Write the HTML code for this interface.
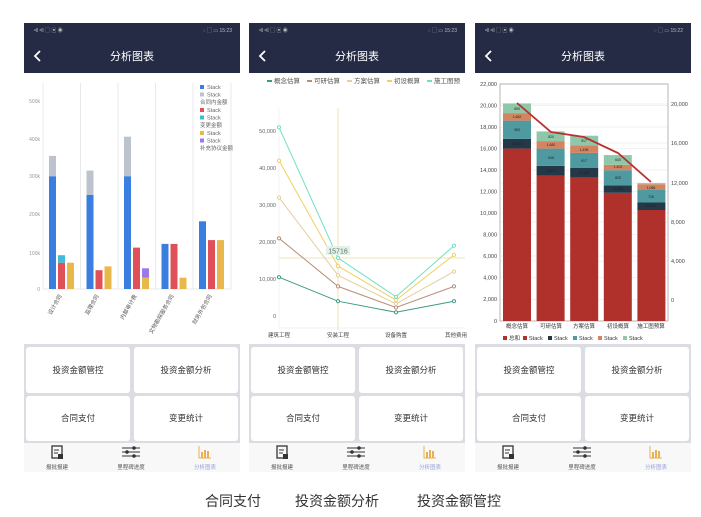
<!DOCTYPE html>
<html><head><meta charset="utf-8"><style>
html,body{margin:0;padding:0;background:#fff;}
svg{display:block;font-family:"Liberation Sans","Noto Sans CJK SC",sans-serif;}
</style></head><body>
<svg width="701" height="517" viewBox="0 0 701 517" xmlns="http://www.w3.org/2000/svg">
<rect width="701" height="517" fill="#fff"/>

<!-- ========== PANEL CHROME x3 ========== -->
<g id="p1">
<rect x="24" y="23" width="216" height="50" fill="#252a45"/>
<text x="34" y="32" font-size="5" fill="#bbb">ᵃll ᵃll ▢ ▣ ◉</text>
<text x="232" y="32" font-size="5" fill="#bbb" text-anchor="end">◌ ▢ ▭ 15:23</text>
<path d="M40 51 L35 56 L40 61" stroke="#fff" stroke-width="1.8" fill="none"/>
<text x="132" y="60" font-size="11" fill="#fff" text-anchor="middle">分析图表</text>
<rect x="24" y="73" width="216" height="271" fill="#fff"/>
<rect x="24" y="344" width="216" height="99" fill="#dcdde2"/>
<rect x="26" y="347" width="104" height="46" rx="3" fill="#fff"/><rect x="134" y="347" width="104" height="46" rx="3" fill="#fff"/>
<rect x="26" y="396" width="104" height="45" rx="3" fill="#fff"/><rect x="134" y="396" width="104" height="45" rx="3" fill="#fff"/>
<g font-size="8.5" fill="#333" text-anchor="middle"><text x="78" y="373">投资金额管控</text><text x="186" y="373">投资金额分析</text><text x="78" y="421">合同支付</text><text x="186" y="421">变更统计</text></g>
<rect x="24" y="443" width="216" height="29" fill="#f8f8f8"/>
</g>
<g transform="translate(225,0)">
<rect x="24" y="23" width="216" height="50" fill="#252a45"/>
<text x="34" y="32" font-size="5" fill="#bbb">ᵃll ᵃll ▢ ▣ ◉</text>
<text x="232" y="32" font-size="5" fill="#bbb" text-anchor="end">◌ ▢ ▭ 15:23</text>
<path d="M40 51 L35 56 L40 61" stroke="#fff" stroke-width="1.8" fill="none"/>
<text x="132" y="60" font-size="11" fill="#fff" text-anchor="middle">分析图表</text>
<rect x="24" y="73" width="216" height="271" fill="#fff"/>
<rect x="24" y="344" width="216" height="99" fill="#dcdde2"/>
<rect x="26" y="347" width="104" height="46" rx="3" fill="#fff"/><rect x="134" y="347" width="104" height="46" rx="3" fill="#fff"/>
<rect x="26" y="396" width="104" height="45" rx="3" fill="#fff"/><rect x="134" y="396" width="104" height="45" rx="3" fill="#fff"/>
<g font-size="8.5" fill="#333" text-anchor="middle"><text x="78" y="373">投资金额管控</text><text x="186" y="373">投资金额分析</text><text x="78" y="421">合同支付</text><text x="186" y="421">变更统计</text></g>
<rect x="24" y="443" width="216" height="29" fill="#f8f8f8"/>
</g>
<g transform="translate(451,0)">
<rect x="24" y="23" width="216" height="50" fill="#252a45"/>
<text x="34" y="32" font-size="5" fill="#bbb">ᵃll ᵃll ▢ ▣ ◉</text>
<text x="232" y="32" font-size="5" fill="#bbb" text-anchor="end">◌ ▢ ▭ 15:22</text>
<path d="M40 51 L35 56 L40 61" stroke="#fff" stroke-width="1.8" fill="none"/>
<text x="132" y="60" font-size="11" fill="#fff" text-anchor="middle">分析图表</text>
<rect x="24" y="73" width="216" height="271" fill="#fff"/>
<rect x="24" y="344" width="216" height="99" fill="#dcdde2"/>
<rect x="26" y="347" width="104" height="46" rx="3" fill="#fff"/><rect x="134" y="347" width="104" height="46" rx="3" fill="#fff"/>
<rect x="26" y="396" width="104" height="45" rx="3" fill="#fff"/><rect x="134" y="396" width="104" height="45" rx="3" fill="#fff"/>
<g font-size="8.5" fill="#333" text-anchor="middle"><text x="78" y="373">投资金额管控</text><text x="186" y="373">投资金额分析</text><text x="78" y="421">合同支付</text><text x="186" y="421">变更统计</text></g>
<rect x="24" y="443" width="216" height="29" fill="#f8f8f8"/>
</g>

<!-- tab icons x3 -->
<g>
 <g id="tabs">
 <rect x="52" y="446" width="10" height="12" fill="none" stroke="#333" stroke-width="1.3"/><rect x="58" y="454" width="5" height="5" fill="#333"/>
 <line x1="54" y1="450" x2="59" y2="450" stroke="#333"/><line x1="54" y1="453" x2="58" y2="453" stroke="#333"/>
 <line x1="122" y1="448" x2="140" y2="448" stroke="#333"/><line x1="122" y1="452" x2="140" y2="452" stroke="#333"/><line x1="122" y1="456" x2="140" y2="456" stroke="#333"/>
 <circle cx="134" cy="448" r="1.8" fill="#333"/><circle cx="127" cy="452" r="1.8" fill="#333"/><circle cx="134" cy="456" r="1.8" fill="#333"/>
 <path d="M199 446 V458 H211" stroke="#e8b050" fill="none"/><rect x="201" y="452" width="2" height="6" fill="#e8b050"/><rect x="204" y="450" width="2" height="8" fill="#e8b050"/><rect x="207" y="451" width="2" height="7" fill="#e8b050"/>
 <g font-size="5.5" text-anchor="middle"><text x="57" y="469" fill="#555">报批报建</text><text x="131" y="469" fill="#555">里程碑进度</text><text x="205" y="469" fill="#9aa0d8">分析图表</text></g>
 </g>
</g>
<g transform="translate(225,0)">
 <rect x="52" y="446" width="10" height="12" fill="none" stroke="#333" stroke-width="1.3"/><rect x="58" y="454" width="5" height="5" fill="#333"/>
 <line x1="54" y1="450" x2="59" y2="450" stroke="#333"/><line x1="54" y1="453" x2="58" y2="453" stroke="#333"/>
 <line x1="122" y1="448" x2="140" y2="448" stroke="#333"/><line x1="122" y1="452" x2="140" y2="452" stroke="#333"/><line x1="122" y1="456" x2="140" y2="456" stroke="#333"/>
 <circle cx="134" cy="448" r="1.8" fill="#333"/><circle cx="127" cy="452" r="1.8" fill="#333"/><circle cx="134" cy="456" r="1.8" fill="#333"/>
 <path d="M199 446 V458 H211" stroke="#e8b050" fill="none"/><rect x="201" y="452" width="2" height="6" fill="#e8b050"/><rect x="204" y="450" width="2" height="8" fill="#e8b050"/><rect x="207" y="451" width="2" height="7" fill="#e8b050"/>
 <g font-size="5.5" text-anchor="middle"><text x="57" y="469" fill="#555">报批报建</text><text x="131" y="469" fill="#555">里程碑进度</text><text x="205" y="469" fill="#9aa0d8">分析图表</text></g>
</g>
<g transform="translate(451,0)">
 <rect x="52" y="446" width="10" height="12" fill="none" stroke="#333" stroke-width="1.3"/><rect x="58" y="454" width="5" height="5" fill="#333"/>
 <line x1="54" y1="450" x2="59" y2="450" stroke="#333"/><line x1="54" y1="453" x2="58" y2="453" stroke="#333"/>
 <line x1="122" y1="448" x2="140" y2="448" stroke="#333"/><line x1="122" y1="452" x2="140" y2="452" stroke="#333"/><line x1="122" y1="456" x2="140" y2="456" stroke="#333"/>
 <circle cx="134" cy="448" r="1.8" fill="#333"/><circle cx="127" cy="452" r="1.8" fill="#333"/><circle cx="134" cy="456" r="1.8" fill="#333"/>
 <path d="M199 446 V458 H211" stroke="#e8b050" fill="none"/><rect x="201" y="452" width="2" height="6" fill="#e8b050"/><rect x="204" y="450" width="2" height="8" fill="#e8b050"/><rect x="207" y="451" width="2" height="7" fill="#e8b050"/>
 <g font-size="5.5" text-anchor="middle"><text x="57" y="469" fill="#555">报批报建</text><text x="131" y="469" fill="#555">里程碑进度</text><text x="205" y="469" fill="#9aa0d8">分析图表</text></g>
</g>

<!-- ========== CHART 1 ========== -->
<g font-size="5" fill="#999">
<text x="40" y="103" text-anchor="end">500k</text><text x="40" y="141" text-anchor="end">400k</text>
<text x="40" y="178" text-anchor="end">300k</text><text x="40" y="216" text-anchor="end">200k</text>
<text x="40" y="255" text-anchor="end">100k</text><text x="40" y="291" text-anchor="end">0</text>
</g>
<g stroke="#e0e0e0" stroke-width="0.7">
<line x1="43" y1="83" x2="43" y2="289"/><line x1="80.5" y1="83" x2="80.5" y2="289"/><line x1="118" y1="83" x2="118" y2="289"/>
<line x1="155.5" y1="83" x2="155.5" y2="289"/><line x1="193" y1="83" x2="193" y2="289"/><line x1="231" y1="83" x2="231" y2="289"/>
<line x1="43" y1="289" x2="231" y2="289"/>
</g>
<g>
<rect x="49" y="176.2" width="7" height="112.8" fill="#3a7fe0"/><rect x="49" y="155.9" width="7" height="20.3" fill="#bcc3cc"/>
<rect x="58" y="262.7" width="7" height="26.3" fill="#e05058"/><rect x="58" y="255.2" width="7" height="7.5" fill="#40bcd8"/>
<rect x="67" y="262.7" width="7" height="26.3" fill="#e8b84a"/>
<rect x="86.5" y="195" width="7" height="94" fill="#3a7fe0"/><rect x="86.5" y="170.6" width="7" height="24.4" fill="#bcc3cc"/>
<rect x="95.5" y="270.2" width="7" height="18.8" fill="#e05058"/><rect x="104.5" y="266.4" width="7" height="22.6" fill="#e8b84a"/>
<rect x="124" y="176.2" width="7" height="112.8" fill="#3a7fe0"/><rect x="124" y="136.7" width="7" height="39.5" fill="#bcc3cc"/>
<rect x="133" y="247.6" width="7" height="41.4" fill="#e05058"/>
<rect x="142" y="277.7" width="7" height="11.3" fill="#e8b84a"/><rect x="142" y="268.3" width="7" height="9.4" fill="#9a7ae8"/>
<rect x="161.5" y="243.9" width="7" height="45.1" fill="#3a7fe0"/><rect x="170.5" y="243.9" width="7" height="45.1" fill="#e05058"/>
<rect x="179.5" y="277.7" width="7" height="11.3" fill="#e8b84a"/>
<rect x="199" y="221.3" width="7" height="67.7" fill="#3a7fe0"/><rect x="208" y="240.1" width="7" height="48.9" fill="#e05058"/>
<rect x="217" y="240.1" width="7" height="48.9" fill="#e8b84a"/>
</g>
<g font-size="5.5" fill="#666">
<rect x="200" y="85" width="4" height="4" fill="#3a7fe0"/><text x="207" y="89">Stack</text>
<rect x="200" y="92.5" width="4" height="4" fill="#bcc3cc"/><text x="207" y="96.5">Stack</text>
<text x="200" y="104">合同内金额</text>
<rect x="200" y="108" width="4" height="4" fill="#e05058"/><text x="207" y="112">Stack</text>
<rect x="200" y="115.5" width="4" height="4" fill="#40bcd8"/><text x="207" y="119.5">Stack</text>
<text x="200" y="127">变更金额</text>
<rect x="200" y="131" width="4" height="4" fill="#e8b84a"/><text x="207" y="135">Stack</text>
<rect x="200" y="138.5" width="4" height="4" fill="#9a7ae8"/><text x="207" y="142.5">Stack</text>
<text x="200" y="150">补充协议金额</text>
</g>
<g font-size="5.5" fill="#555" text-anchor="end">
<text transform="translate(62,296) rotate(-60)">设计合同</text>
<text transform="translate(99,296) rotate(-60)">监理合同</text>
<text transform="translate(137,296) rotate(-60)">内部审计费</text>
<text transform="translate(174,296) rotate(-60)">文物勘探服务合同</text>
<text transform="translate(212,296) rotate(-60)">财务外包合同</text>
</g>

<!-- ========== CHART 2 ========== -->
<g font-size="6.5" fill="#555">
<rect x="267" y="80" width="5" height="2" fill="#3e9a84"/><text x="274" y="83">概念估算</text>
<rect x="307" y="80" width="5" height="2" fill="#b98e78"/><text x="314" y="83">可研估算</text>
<rect x="347" y="80" width="5" height="2" fill="#e3cfa0"/><text x="354" y="83">方案估算</text>
<rect x="387" y="80" width="5" height="2" fill="#efd060"/><text x="394" y="83">初设概算</text>
<rect x="427" y="80" width="5" height="2" fill="#6fe0c2"/><text x="434" y="83">施工图预</text>
</g>
<g font-size="5.5" fill="#666" text-anchor="end">
<text x="276" y="133">50,000</text><text x="276" y="170">40,000</text><text x="276" y="207">30,000</text>
<text x="276" y="244">20,000</text><text x="276" y="281">10,000</text><text x="276" y="318">0</text>
</g>
<line x1="279" y1="108" x2="279" y2="328" stroke="#eee" stroke-width="0.7"/>
<line x1="279" y1="328" x2="465" y2="328" stroke="#eee" stroke-width="0.7"/>
<line x1="338" y1="108" x2="338" y2="330" stroke="#ecdca0" stroke-width="0.8"/>
<line x1="279" y1="258" x2="465" y2="258" stroke="#ecdca0" stroke-width="0.8"/>
<g fill="#fff" stroke-width="1">
<polyline points="279,277.2 338,301.2 396,312.3 454,301.2" fill="none" stroke="#3e9a84"/>
<polyline points="279,238.3 338,286.4 396,307.5 454,286.4" fill="none" stroke="#b98e78"/>
<polyline points="279,197.6 338,275.3 396,303.8 454,271.6" fill="none" stroke="#e3cfa0"/>
<polyline points="279,160.6 338,266.1 396,300.1 454,254.9" fill="none" stroke="#efd060"/>
<polyline points="279,127.3 338,257.9 396,296.8 454,245.7" fill="none" stroke="#6fe0c2"/>
<g stroke="#3e9a84"><circle cx="279" cy="277.2" r="1.6"/><circle cx="338" cy="301.2" r="1.6"/><circle cx="396" cy="312.3" r="1.6"/><circle cx="454" cy="301.2" r="1.6"/></g>
<g stroke="#b98e78"><circle cx="279" cy="238.3" r="1.6"/><circle cx="338" cy="286.4" r="1.6"/><circle cx="396" cy="307.5" r="1.6"/><circle cx="454" cy="286.4" r="1.6"/></g>
<g stroke="#e3cfa0"><circle cx="279" cy="197.6" r="1.6"/><circle cx="338" cy="275.3" r="1.6"/><circle cx="396" cy="303.8" r="1.6"/><circle cx="454" cy="271.6" r="1.6"/></g>
<g stroke="#efd060"><circle cx="279" cy="160.6" r="1.6"/><circle cx="338" cy="266.1" r="1.6"/><circle cx="396" cy="300.1" r="1.6"/><circle cx="454" cy="254.9" r="1.6"/></g>
<g stroke="#6fe0c2"><circle cx="279" cy="127.3" r="1.6"/><circle cx="338" cy="257.9" r="1.6"/><circle cx="396" cy="296.8" r="1.6"/><circle cx="454" cy="245.7" r="1.6"/></g>
</g>
<rect x="326" y="246" width="24" height="9" fill="#e4f1e8"/>
<text x="338" y="253.5" font-size="7" fill="#5a7a6a" text-anchor="middle">15716</text>
<g font-size="5.5" fill="#444" text-anchor="middle">
<text x="279" y="337">建筑工程</text><text x="338" y="337">安装工程</text><text x="396" y="337">设备购置</text><text x="456" y="337">其他费用</text>
</g>

<!-- ========== CHART 3 ========== -->
<g stroke="#e4e4e4" stroke-width="0.6">
<line x1="49" y1="299.5" x2="217" y2="299.5" transform="translate(451,0)"/>
</g>
<g transform="translate(451,0)">
<g stroke="#e6e6e6" stroke-width="0.6">
<line x1="49" y1="84" x2="217" y2="84"/><line x1="49" y1="105.5" x2="217" y2="105.5"/><line x1="49" y1="127" x2="217" y2="127"/>
<line x1="49" y1="148.5" x2="217" y2="148.5"/><line x1="49" y1="170" x2="217" y2="170"/><line x1="49" y1="191.5" x2="217" y2="191.5"/>
<line x1="49" y1="213" x2="217" y2="213"/><line x1="49" y1="234.5" x2="217" y2="234.5"/><line x1="49" y1="256" x2="217" y2="256"/>
<line x1="49" y1="277.5" x2="217" y2="277.5"/>
<line x1="49" y1="104" x2="217" y2="104"/><line x1="49" y1="143" x2="217" y2="143"/><line x1="49" y1="183" x2="217" y2="183"/>
<line x1="49" y1="222" x2="217" y2="222"/><line x1="49" y1="261" x2="217" y2="261"/>
</g>
<rect x="49" y="84" width="168" height="237" fill="none" stroke="#999" stroke-width="0.7"/>
<g font-size="5.5" fill="#444" text-anchor="end">
<text x="46" y="86">22,000</text><text x="46" y="107.5">20,000</text><text x="46" y="129">18,000</text><text x="46" y="150.5">16,000</text>
<text x="46" y="172">14,000</text><text x="46" y="193.5">12,000</text><text x="46" y="215">10,000</text><text x="46" y="236.5">8,000</text>
<text x="46" y="258">6,000</text><text x="46" y="279.5">4,000</text><text x="46" y="301">2,000</text><text x="46" y="323">0</text>
</g>
<g font-size="5.5" fill="#444">
<text x="220" y="106">20,000</text><text x="220" y="145">16,000</text><text x="220" y="185">12,000</text>
<text x="220" y="224">8,000</text><text x="220" y="263">4,000</text><text x="220" y="302">0</text>
</g>
<g>
<rect x="52" y="148.6" width="28" height="172.4" fill="#b0302c"/><rect x="52" y="138.9" width="28" height="9.7" fill="#243848"/>
<rect x="52" y="120.6" width="28" height="18.3" fill="#4e9aa0"/><rect x="52" y="113.1" width="28" height="7.5" fill="#d48460"/><rect x="52" y="103.4" width="28" height="9.7" fill="#8fc8a8"/>
<rect x="85.6" y="175.6" width="28" height="145.4" fill="#b0302c"/><rect x="85.6" y="165.9" width="28" height="9.7" fill="#243848"/>
<rect x="85.6" y="148.6" width="28" height="17.3" fill="#4e9aa0"/><rect x="85.6" y="141.1" width="28" height="7.5" fill="#d48460"/><rect x="85.6" y="131.4" width="28" height="9.7" fill="#8fc8a8"/>
<rect x="119.2" y="177.7" width="28" height="143.3" fill="#b0302c"/><rect x="119.2" y="168" width="28" height="9.7" fill="#243848"/>
<rect x="119.2" y="152.9" width="28" height="15.1" fill="#4e9aa0"/><rect x="119.2" y="145.4" width="28" height="7.5" fill="#d48460"/><rect x="119.2" y="135.7" width="28" height="9.7" fill="#8fc8a8"/>
<rect x="152.8" y="192.8" width="28" height="128.2" fill="#b0302c"/><rect x="152.8" y="185.3" width="28" height="7.5" fill="#243848"/>
<rect x="152.8" y="170.2" width="28" height="15.1" fill="#4e9aa0"/><rect x="152.8" y="164.8" width="28" height="5.4" fill="#d48460"/><rect x="152.8" y="155.1" width="28" height="9.7" fill="#8fc8a8"/>
<rect x="186.4" y="210" width="28" height="111" fill="#b0302c"/><rect x="186.4" y="202.5" width="28" height="7.5" fill="#243848"/>
<rect x="186.4" y="189.6" width="28" height="12.9" fill="#4e9aa0"/><rect x="186.4" y="184.2" width="28" height="5.4" fill="#d48460"/><rect x="186.4" y="183.1" width="28" height="1.1" fill="#8fc8a8"/>
</g>
<polyline points="66,103 100,132 133,137 167,153 200,182" fill="none" stroke="#b83030" stroke-width="1.8"/>
<g font-size="3.5" fill="#222" text-anchor="middle">
<text x="66" y="145">16,061</text><text x="66" y="131">983</text><text x="66" y="118">1,682</text><text x="66" y="110">659</text>
<text x="100" y="172">13,571</text><text x="100" y="159">945</text><text x="100" y="146">1,682</text><text x="100" y="138">820</text>
<text x="133" y="174">13,355</text><text x="133" y="162">917</text><text x="133" y="151">1,495</text><text x="133" y="142">917</text>
<text x="167" y="190">11,960</text><text x="167" y="179">825</text><text x="167" y="168">1,402</text><text x="167" y="161">640</text>
<text x="200" y="207">10,379</text><text x="200" y="198">726</text><text x="200" y="189">1,086</text>
</g>
<g font-size="5.5" fill="#333" text-anchor="middle">
<text x="66" y="328">概念估算</text><text x="100" y="328">可研估算</text><text x="133" y="328">方案估算</text><text x="167" y="328">初设概算</text><text x="200" y="328">施工图预算</text>
</g>
<g font-size="5.5" fill="#333">
<rect x="52" y="336" width="4" height="4" fill="#b0302c"/><text x="58" y="340">总和</text>
<rect x="72" y="336" width="4" height="4" fill="#b0302c"/><text x="78" y="340">Stack</text>
<rect x="97" y="336" width="4" height="4" fill="#243848"/><text x="103" y="340">Stack</text>
<rect x="122" y="336" width="4" height="4" fill="#4e9aa0"/><text x="128" y="340">Stack</text>
<rect x="147" y="336" width="4" height="4" fill="#d48460"/><text x="153" y="340">Stack</text>
<rect x="172" y="336" width="4" height="4" fill="#8fc8a8"/><text x="178" y="340">Stack</text>
</g>
</g>

<!-- captions -->
<g font-size="14" fill="#333">
<text x="205" y="506">合同支付</text>
<text x="295" y="506">投资金额分析</text>
<text x="417" y="506">投资金额管控</text>
</g>
</svg>
</body></html>
